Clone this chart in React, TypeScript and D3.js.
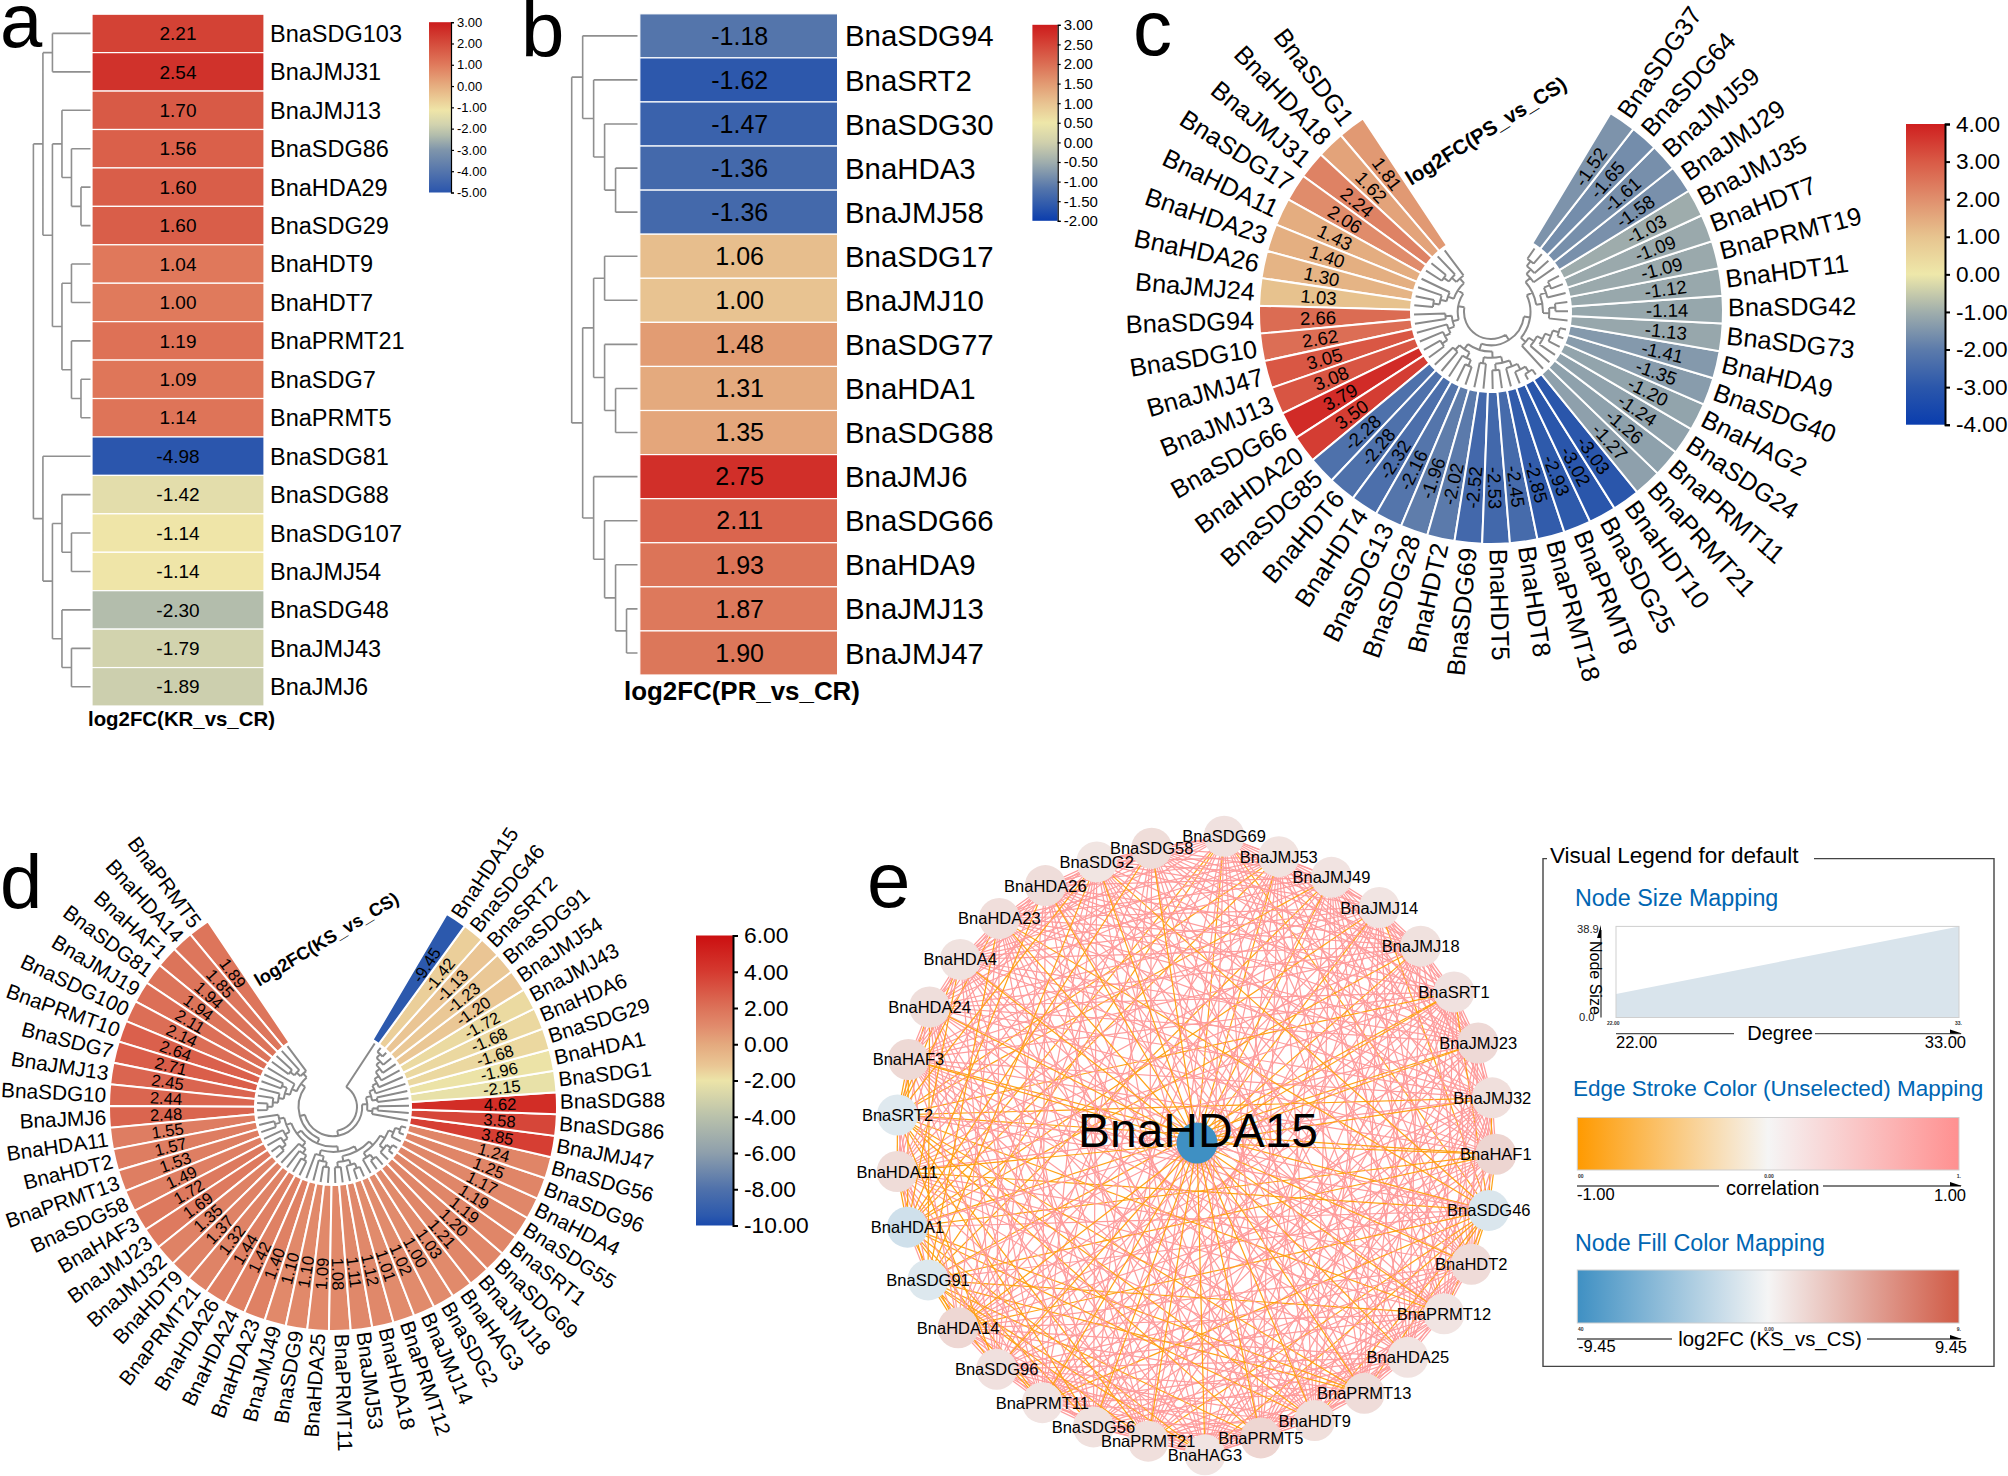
import * as React from "react";
import * as d3 from "d3";

type Tree = number | Tree[];
type Sel = d3.Selection<SVGSVGElement, unknown, null, undefined>;

const FONT = '"Liberation Sans", Arial, sans-serif';

// panel a
const aLabels = ["BnaSDG103","BnaJMJ31","BnaJMJ13","BnaSDG86","BnaHDA29","BnaSDG29","BnaHDT9","BnaHDT7","BnaPRMT21","BnaSDG7","BnaPRMT5","BnaSDG81","BnaSDG88","BnaSDG107","BnaJMJ54","BnaSDG48","BnaJMJ43","BnaJMJ6"];
const aValues = [2.21,2.54,1.7,1.56,1.6,1.6,1.04,1.0,1.19,1.09,1.14,-4.98,-1.42,-1.14,-1.14,-2.3,-1.79,-1.89];
const aTree: Tree = [[[0,1],[[2,[3,[4,5]]],[[6,7],[8,[9,10]]]]],[11,[[12,[13,14]],[15,[16,17]]]]];
const aTicks = [3,2,1,0,-1,-2,-3,-4,-5];
const aStops = [-5,-3,-2.3,-1.8,-1.14,0,1,2,3];
const aColors = ["#2a55ad","#7f95ab","#b3bdac","#d2d3ae","#efe5a8","#e6ae80","#e07a5c","#d54c3c","#cb1c1c"];

// panel b
const bLabels = ["BnaSDG94","BnaSRT2","BnaSDG30","BnaHDA3","BnaJMJ58","BnaSDG17","BnaJMJ10","BnaSDG77","BnaHDA1","BnaSDG88","BnaJMJ6","BnaSDG66","BnaHDA9","BnaJMJ13","BnaJMJ47"];
const bValues = [-1.18,-1.62,-1.47,-1.36,-1.36,1.06,1.0,1.48,1.31,1.35,2.75,2.11,1.93,1.87,1.9];
const bTree: Tree = [[0,[1,[2,[3,4]]]],[[[5,6],[7,[8,9]]],[10,[11,[12,[13,14]]]]]];
const bTicks = [3,2.5,2,1.5,1,0.5,0,-0.5,-1,-1.5,-2];
const bStops = [-2,-1.62,-1.18,-0.5,0,0.5,1,1.5,2,2.75,3];
const bColors = ["#0b3dad","#2d58ac","#5475ab","#a0aead","#d0d0ac","#eee7a9","#e8c391","#e29a72","#db6e54","#d12f29","#cc1c1c"];

// panel c
const cLabels = ["BnaSDG1","BnaHDA18","BnaJMJ31","BnaSDG17","BnaHDA11","BnaHDA23","BnaHDA26","BnaJMJ24","BnaSDG94","BnaSDG10","BnaJMJ47","BnaJMJ13","BnaSDG66","BnaHDA20","BnaSDG85","BnaHDT6","BnaHDT4","BnaSDG13","BnaSDG28","BnaHDT2","BnaSDG69","BnaHDT5","BnaHDT8","BnaPRMT18","BnaPRMT8","BnaSDG25","BnaHDT10","BnaPRMT21","BnaPRMT11","BnaSDG24","BnaHAG2","BnaSDG40","BnaHDA9","BnaSDG73","BnaSDG42","BnaHDT11","BnaPRMT19","BnaHDT7","BnaJMJ35","BnaJMJ29","BnaJMJ59","BnaSDG64","BnaSDG37"];
const cValues = [1.81,1.62,2.24,2.06,1.43,1.4,1.3,1.03,2.66,2.62,3.05,3.08,3.79,3.5,-2.28,-2.28,-2.32,-2.16,-1.96,-2.02,-2.52,-2.53,-2.45,-2.85,-2.93,-3.02,-3.03,-1.27,-1.26,-1.24,-1.2,-1.35,-1.41,-1.13,-1.14,-1.12,-1.09,-1.09,-1.03,-1.58,-1.61,-1.65,-1.52];
const cTree: Tree = [
  [[[0,[1,[2,3]]],[4,[5,[6,7]]]],[[8,9],[10,[11,[12,13]]]]],
  [[[[14,15],[16,[17,18]]],[[19,20],[[21,22],[23,[24,[25,26]]]]]],[[27,[28,[29,[30,[31,32]]]]],[[[33,[34,35]],[36,[37,38]]],[39,[40,[41,42]]]]]],
];
const cTicks = [4,3,2,1,0,-1,-2,-3,-4];
const cStops = [-4,-3,-2,-1,0,1,2,3,4];
const cColors = ["#0a3dae","#2b57ab","#5c7bab","#a0aeac","#eee8aa","#e7c48f","#e08f6d","#d95a46","#cf1f1f"];

// panel d
const dLabels = ["BnaPRMT5","BnaHDA14","BnaHAF1","BnaSDG81","BnaJMJ19","BnaSDG100","BnaPRMT10","BnaSDG7","BnaJMJ13","BnaSDG10","BnaJMJ6","BnaHDA11","BnaHDT2","BnaPRMT13","BnaSDG58","BnaHAF3","BnaJMJ23","BnaJMJ32","BnaHDT9","BnaPRMT21","BnaHDA26","BnaHDA24","BnaHDA23","BnaJMJ49","BnaSDG9","BnaHDA25","BnaPRMT11","BnaJMJ53","BnaHDA18","BnaPRMT12","BnaJMJ14","BnaSDG2","BnaHAG3","BnaJMJ18","BnaSDG69","BnaSRT1","BnaSDG55","BnaHDA4","BnaSDG96","BnaSDG56","BnaJMJ47","BnaSDG86","BnaSDG88","BnaSDG1","BnaHDA1","BnaSDG29","BnaHDA6","BnaJMJ43","BnaJMJ54","BnaSDG91","BnaSRT2","BnaSDG46","BnaHDA15"];
const dValues = [1.89,1.85,1.94,1.94,2.11,2.14,2.64,2.71,2.45,2.44,2.48,1.55,1.57,1.53,1.49,1.72,1.69,1.35,1.37,1.32,1.44,1.42,1.4,1.1,1.1,1.09,1.08,1.11,1.12,1.01,1.02,1.0,1.03,1.21,1.2,1.19,1.19,1.17,1.25,1.24,3.85,3.58,4.62,-2.15,-1.96,-1.68,-1.68,-1.72,-1.2,-1.23,-1.13,-1.42,-9.45];
const dTree: Tree = [
  [
    [
      [[0,[1,[2,3]]],[4,[[5,6],[7,[8,[9,10]]]]]],
      [
        [[[11,[12,13]],[14,[15,[16,17]]]],[18,[19,[20,21]]]],
        [[22,[23,[24,25]]],[[[26,27],[28,[29,30]]],[[31,[32,33]],[[34,[35,36]],[37,[38,39]]]]]],
      ],
    ],
    [[40,[41,42]],[[43,44],[45,[46,[47,[48,[49,[50,51]]]]]]]],
  ],
  52,
];
const dTicks = [6,4,2,0,-2,-4,-6,-8,-10];
const dStops = [-10,-9.45,-8,-6,-4,-2,-1.2,0,1,2,4,6];
const dColors = ["#1a4aad","#2c59ad","#4f71ab","#8e9fac","#b9c1ab","#ece4a8","#eac795","#e4a97e","#e18b6c","#dc7259","#d53a30","#cb0f10"];

// panel e, ring order clockwise from the top
const ringNames = ["BnaSDG69","BnaJMJ53","BnaJMJ49","BnaJMJ14","BnaJMJ18","BnaSRT1","BnaJMJ23","BnaJMJ32","BnaHAF1","BnaSDG46","BnaHDT2","BnaPRMT12","BnaHDA25","BnaPRMT13","BnaHDT9","BnaPRMT5","BnaHAG3","BnaPRMT21","BnaSDG56","BnaPRMT11","BnaSDG96","BnaHDA14","BnaSDG91","BnaHDA1","BnaHDA11","BnaSRT2","BnaHAF3","BnaHDA24","BnaHDA4","BnaHDA23","BnaHDA26","BnaSDG2","BnaSDG58"];
// these two sit a little outside the ring in the picture
const ringOutliers = ["BnaSDG69","BnaHAG3"];
// ring pairs that look unconnected (estimated, the web is too dense to read)
const missingLinks = [[0,7],[0,19],[1,12],[1,24],[2,9],[2,27],[3,15],[3,30],[4,11],[4,21],[5,18],[5,28],[6,14],[6,26],[7,22],[7,31],[8,16],[8,29],[9,20],[10,17],[10,25],[11,32],[12,23],[13,27],[6,13],[14,30],[15,24],[16,28],[17,31],[18,26],[19,29],[20,32],[21,30],[22,28],[0,13],[1,5],[2,16],[3,22],[4,25],[5,31],[6,20],[7,13],[8,24],[9,27],[3,10],[11,19],[12,29],[14,21],[15,27],[16,32],[17,24],[18,30],[19,25],[20,26],[21,28],[23,31],[24,29],[26,32],[27,31],[0,26],[2,20],[4,14],[6,17],[8,12],[9,15],[10,28],[11,23],[13,18],[22,32],[23,27],
  [1,9],[4,9],[6,9],[9,12],[9,18],[9,28],[9,30],[9,32],
  [1,22],[4,22],[6,22],[10,22],[12,22],[14,22],[18,22],[22,26],[22,30],
  [2,23],[5,23],[7,23],[10,23],[15,23],[17,23],[20,23],[23,29],
  [0,25],[3,25],[6,25],[12,25],[16,25],[19,25],[21,25],[25,30],[25,32]];
const edgeCorr = [-1,0,1];
const edgeCorrColors = ["#ff9a00","#f5f5f5","#ff9090"];
const fillLogFc = [-9.45,0,9.45];
const fillLogFcColors = ["#3f90c3","#f5f5f5","#d05a45"];
const sizeDegree = [22,33];
const sizeValue = [10,38.9];

function text(g: any, s: string, x: number, y: number, size: number, opt: any = {}) {
  return g.append("text")
    .attr("x", x).attr("y", y)
    .attr("font-family", FONT)
    .attr("font-size", size)
    .attr("font-weight", opt.weight || "normal")
    .attr("text-anchor", opt.anchor || "start")
    .attr("fill", opt.fill || "#000")
    .attr("transform", opt.rotate != null ? `rotate(${opt.rotate},${x},${y})` : null)
    .text(s);
}

function colorBar(svg: Sel, id: string, stops: number[], colors: string[], ticks: number[], box: any) {
  const lo = d3.min(ticks)!, hi = d3.max(ticks)!;
  const grad = svg.select("defs").append("linearGradient").attr("id", id)
    .attr("x1", 0).attr("y1", 1).attr("x2", 0).attr("y2", 0);
  stops.forEach((s, i) => {
    grad.append("stop").attr("offset", (s - lo) / (hi - lo)).attr("stop-color", colors[i]);
  });
  svg.append("rect").attr("x", box.x0).attr("y", box.y0)
    .attr("width", box.x1 - box.x0).attr("height", box.y1 - box.y0)
    .attr("fill", `url(#${id})`);
  const y = d3.scaleLinear([lo, hi], [box.y1, box.y0]);
  const axis = d3.axisRight(y).tickValues(ticks).tickSize(box.tick).tickPadding(box.pad)
    .tickFormat((d) => (+d).toFixed(2));
  const g = svg.append("g").attr("transform", `translate(${box.x1},0)`).call(axis as any);
  g.attr("font-family", FONT).attr("font-size", box.font);
  g.selectAll("path,line").attr("stroke", "#000").attr("stroke-width", box.sw);
  g.selectAll("text").attr("fill", "#000");
}

function heatPanel(svg: Sel, p: any) {
  const y = d3.scaleBand<string>(p.labels, [p.top, p.bottom]);
  const color = d3.scaleLinear<string>(p.stops, p.colors);
  const g = svg.append("g");
  g.selectAll("rect").data(p.labels as string[]).enter().append("rect")
    .attr("x", p.x0).attr("y", (d) => y(d)!)
    .attr("width", p.x1 - p.x0).attr("height", y.bandwidth())
    .attr("fill", (_, i) => color(p.values[i]))
    .attr("stroke", "#fff").attr("stroke-width", 1.2);
  p.labels.forEach((l: string, i: number) => {
    const cy = y(l)! + y.bandwidth() / 2;
    text(g, p.values[i].toFixed(2), (p.x0 + p.x1) / 2 + p.valueDx, cy + p.valueFont * 0.35, p.valueFont, { anchor: "middle" });
    text(g, l, p.x1 + p.labelDx, cy + p.labelFont * 0.36, p.labelFont);
  });
  // dendrogram on the left
  const root = d3.hierarchy<Tree>(p.tree, (d) => (Array.isArray(d) ? d : null));
  const maxDepth = d3.max(root.descendants(), (n) => (n.children ? n.depth : 0))!;
  const xd = d3.scaleLinear([0, maxDepth + 1], [p.treeX, p.leafX]);
  const pos = new Map<any, number>();
  root.eachAfter((n) => {
    if (n.children) {
      pos.set(n, (pos.get(n.children[0])! + pos.get(n.children[n.children.length - 1])!) / 2);
    } else {
      pos.set(n, y(p.labels[n.data as number])! + y.bandwidth() / 2);
    }
  });
  const path = d3.path();
  root.each((n) => {
    if (!n.children) return;
    const x = xd(n.depth);
    path.moveTo(x, pos.get(n.children[0])!);
    path.lineTo(x, pos.get(n.children[n.children.length - 1])!);
    n.children.forEach((c) => {
      path.moveTo(x, pos.get(c)!);
      path.lineTo(c.children ? xd(c.depth) : p.leafX, pos.get(c)!);
    });
  });
  svg.append("path").attr("d", path.toString()).attr("fill", "none")
    .attr("stroke", "#8f8f8f").attr("stroke-width", 1.6);
  text(svg, p.title, p.titleX, p.titleY, p.titleFont, { weight: "bold" });
}

function polarPanel(svg: Sel, p: any) {
  const deg = Math.PI / 180;
  const band = d3.scaleBand<string>(p.labels, [p.start * deg, p.end * deg]);
  const color = d3.scaleLinear<string>(p.stops, p.colors);
  const g = svg.append("g").attr("transform", `translate(${p.cx},${p.cy})`);
  const arc = d3.arc<string>()
    .innerRadius(p.inner).outerRadius(p.outer)
    .startAngle((d) => band(d)!)
    .endAngle((d) => band(d)! + band.bandwidth());
  g.selectAll("path.cell").data(p.labels as string[]).enter().append("path")
    .attr("class", "cell").attr("d", arc)
    .attr("fill", (_, i) => color(p.values[i]))
    .attr("stroke", "#fff").attr("stroke-width", 2);

  p.labels.forEach((l: string, i: number) => {
    const a = band(l)! + band.bandwidth() / 2;
    const m = a / deg;
    const right = m < 180;
    const rot = right ? m - 90 : m + 90;
    const at = (r: number) => `translate(${r * Math.sin(a)},${-r * Math.cos(a)}) rotate(${rot})`;
    g.append("text").attr("transform", at(p.outer + p.labelGap))
      .attr("dy", right ? "0.26em" : "0.36em").attr("text-anchor", right ? "start" : "end")
      .attr("font-family", FONT).attr("font-size", p.labelFont).text(l);
    g.append("text").attr("transform", at(p.valueR))
      .attr("dy", "0.36em").attr("text-anchor", right ? "start" : "end")
      .attr("font-family", FONT).attr("font-size", p.valueFont).text(p.values[i].toFixed(2));
  });

  // circular dendrogram
  const root = d3.hierarchy<Tree>(p.tree, (d) => (Array.isArray(d) ? d : null));
  const maxDepth = d3.max(root.descendants(), (n) => (n.children ? n.depth : 0))!;
  const rd = d3.scaleLinear([0, maxDepth + 1], [p.treeR, p.leafR]);
  const pos = new Map<any, number>();
  root.eachAfter((n) => {
    if (n.children) {
      pos.set(n, (pos.get(n.children[0])! + pos.get(n.children[n.children.length - 1])!) / 2);
    } else {
      pos.set(n, band(p.labels[n.data as number])! + band.bandwidth() / 2);
    }
  });
  const path = d3.path();
  root.each((n) => {
    if (!n.children) return;
    const r = rd(n.depth);
    const a0 = pos.get(n.children[0])!;
    const a1 = pos.get(n.children[n.children.length - 1])!;
    path.moveTo(r * Math.sin(a0), -r * Math.cos(a0));
    path.arc(0, 0, r, a0 - Math.PI / 2, a1 - Math.PI / 2, a1 < a0);
    n.children.forEach((c) => {
      const a = pos.get(c)!;
      const r2 = c.children ? rd(c.depth) : p.leafR;
      path.moveTo(r * Math.sin(a), -r * Math.cos(a));
      path.lineTo(r2 * Math.sin(a), -r2 * Math.cos(a));
    });
  });
  g.append("path").attr("d", path.toString()).attr("fill", "none")
    .attr("stroke", "#8a8a8a").attr("stroke-width", 2);

  svg.append("text").attr("transform", `translate(${p.titleX},${p.titleY}) rotate(${p.titleRot})`)
    .attr("font-family", FONT).attr("font-size", p.titleFont).attr("font-weight", "bold").text(p.title);
}

function networkPanel(svg: Sel) {
  const cx = 1196, cy = 1145, ringR = 300;
  // ring steps evenly from the top round to the last node, leaving a slightly wider gap before the first
  const angle = d3.scaleLinear([0, ringNames.length - 1], [5.2, 351.5]);
  const centerIdx = ringNames.length;
  const radius = (i: number) => (ringOutliers.includes(ringNames[i]) ? ringR + 10 : ringR);
  const px = (i: number) => (i === centerIdx ? 1197 : cx + radius(i) * Math.sin((angle(i) * Math.PI) / 180));
  const py = (i: number) => (i === centerIdx ? 1143 : cy - radius(i) * Math.cos((angle(i) * Math.PI) / 180));
  const names = [...ringNames, "BnaHDA15"];
  const fc = names.map((n) => dValues[dLabels.indexOf(n)]);
  const edgeScale = d3.scaleLinear<string>(edgeCorr, edgeCorrColors);
  const fillScale = d3.scaleLinear<string>(fillLogFc, fillLogFcColors);
  const missing = new Set(missingLinks.map(([a, b]) => `${a}-${b}`));
  const links: { a: number; b: number; neg: boolean }[] = [];
  names.forEach((_, a) => {
    names.forEach((_, b) => {
      if (b <= a || missing.has(`${a}-${b}`)) return;
      links.push({ a, b, neg: fc[a] * fc[b] < 0 });
    });
  });
  const g = svg.append("g");
  g.selectAll("line").data(links).enter().append("line")
    .attr("x1", (d) => px(d.a)).attr("y1", (d) => py(d.a))
    .attr("x2", (d) => px(d.b)).attr("y2", (d) => py(d.b))
    .attr("stroke", (d) => edgeScale(d.neg ? -0.92 : 0.88))
    .attr("stroke-width", 1.2);
  g.selectAll("circle").data(names).enter().append("circle")
    .attr("cx", (_, i) => px(i)).attr("cy", (_, i) => py(i)).attr("r", 20.5)
    .attr("fill", (_, i) => fillScale(fc[i]));
  ringNames.forEach((n, i) => {
    text(g, n, px(i), py(i) + 6, 16.5, { anchor: "middle" });
  });
  text(g, "BnaHDA15", 1198, 1147, 48, { anchor: "middle" });
}

function legendPanel(svg: Sel) {
  const g = svg.append("g");
  const outline = d3.path();
  outline.moveTo(1547, 858.6);
  outline.lineTo(1543, 858.6);
  outline.lineTo(1543, 1366.4);
  outline.lineTo(1994, 1366.4);
  outline.lineTo(1994, 858.6);
  outline.lineTo(1814, 858.6);
  g.append("path").attr("d", outline.toString()).attr("fill", "none")
    .attr("stroke", "#444").attr("stroke-width", 1.4);
  text(g, "Visual Legend for default", 1550, 863, 22.5);
  const blue = "#0066b3";
  text(g, "Node Size Mapping", 1575, 906, 23.3, { fill: blue });
  text(g, "Edge Stroke Color (Unselected) Mapping", 1573, 1096, 22.5, { fill: blue });
  text(g, "Node Fill Color Mapping", 1575, 1251, 23.3, { fill: blue });

  // node size area
  const x = d3.scaleLinear(sizeDegree, [1616, 1959]);
  const y = d3.scaleLinear([0, 38.9], [1017.5, 926.4]);
  const area = d3.area<number>().x((d) => x(d)).y0(y(0))
    .y1((_, i) => y(sizeValue[i]));
  g.append("path").attr("d", area(sizeDegree)).attr("fill", "#d9e4ec");
  g.append("rect").attr("x", 1616).attr("y", 926.4).attr("width", 343).attr("height", 91.1)
    .attr("fill", "none").attr("stroke", "#cfcfcf").attr("stroke-width", 1);
  g.append("line").attr("x1", 1601).attr("x2", 1601).attr("y1", 930).attr("y2", 1017.5)
    .attr("stroke", "#333").attr("stroke-width", 1.2);
  g.append("path").attr("d", "M1601,925 L1597,938 L1601,938 Z").attr("fill", "#000");
  text(g, "38.9", 1577, 932.5, 11.2, { fill: "#222" });
  text(g, "0.0", 1579, 1021, 11.2, { fill: "#222" });
  text(g, "Node Size", 1590, 941, 16, { rotate: 90 });

  const rule = (yy: number, a: number, b: number, c: number) => {
    g.append("line").attr("x1", a).attr("x2", b).attr("y1", yy).attr("y2", yy).attr("stroke", "#555").attr("stroke-width", 1.3);
    g.append("line").attr("x1", c).attr("x2", 1961).attr("y1", yy).attr("y2", yy).attr("stroke", "#555").attr("stroke-width", 1.3);
    g.append("path").attr("d", `M1950,${yy - 4} L1962,${yy} L1950,${yy} Z`).attr("fill", "#000");
  };
  const tiny = (s: string, xx: number, yy: number, anchor = "start") =>
    text(g, s, xx, yy, 5, { weight: "bold", anchor, fill: "#333" });

  tiny("22.00", 1607, 1025);
  tiny("33.", 1962, 1025, "end");
  rule(1033.6, 1616, 1734, 1815);
  text(g, "Degree", 1780, 1040, 20, { anchor: "middle" });
  text(g, "22.00", 1616, 1048, 16.5);
  text(g, "33.00", 1966, 1048, 16.5, { anchor: "end" });

  const gradRect = (id: string, stops: number[], colors: string[], top: number, bottom: number) => {
    const lo = stops[0], hi = stops[stops.length - 1];
    const gr = svg.select("defs").append("linearGradient").attr("id", id);
    stops.forEach((s, i) => gr.append("stop").attr("offset", (s - lo) / (hi - lo)).attr("stop-color", colors[i]));
    g.append("rect").attr("x", 1577.3).attr("y", top).attr("width", 381.7).attr("height", bottom - top)
      .attr("fill", `url(#${id})`).attr("stroke", "#cfcfcf").attr("stroke-width", 1);
  };
  gradRect("edgeGrad", edgeCorr, edgeCorrColors, 1117.5, 1170);
  tiny("00", 1578, 1178);
  tiny("0.00", 1769, 1178, "middle");
  tiny("1.", 1961, 1178, "end");
  rule(1186, 1577, 1719, 1823);
  text(g, "correlation", 1772.7, 1195, 20, { anchor: "middle" });
  text(g, "-1.00", 1577, 1200, 16.5);
  text(g, "1.00", 1966, 1201, 16.5, { anchor: "end" });

  gradRect("fillGrad", fillLogFc, fillLogFcColors, 1270, 1323);
  tiny("40", 1578, 1331);
  tiny("0.00", 1769, 1331, "middle");
  tiny("9.", 1961, 1331, "end");
  rule(1339, 1577, 1672, 1867);
  text(g, "log2FC (KS_vs_CS)", 1770, 1346, 20.4, { anchor: "middle" });
  text(g, "-9.45", 1578, 1352, 16.5);
  text(g, "9.45", 1967, 1353, 16.5, { anchor: "end" });
}

export default function App() {
  const ref = React.useRef<HTMLDivElement | null>(null);
  React.useEffect(() => {
    const svg = d3.select(ref.current)
      .append("svg")
      .attr("width", 2008).attr("height", 1476)
      .attr("viewBox", "0 0 2008 1476")
      .style("position", "absolute").style("left", 0).style("top", 0)
      .style("background", "#fff") as unknown as Sel;
    svg.append("defs");

    heatPanel(svg, {
      labels: aLabels, values: aValues, tree: aTree, stops: aStops, colors: aColors,
      x0: 92, x1: 264, top: 14.2, bottom: 706, valueFont: 19, labelFont: 23.5, valueDx: 0, labelDx: 6,
      treeX: 33.4, leafX: 90.5, title: "log2FC(KR_vs_CR)", titleX: 88, titleY: 726, titleFont: 20.4,
    });
    colorBar(svg, "barA", aStops, aColors, aTicks, { x0: 429, x1: 451, y0: 22.2, y1: 192.5, tick: 3, pad: 3, font: 13, sw: 1.2 });

    heatPanel(svg, {
      labels: bLabels, values: bValues, tree: bTree, stops: bStops, colors: bColors,
      x0: 639.8, x1: 837.6, top: 13.8, bottom: 675, valueFont: 25, labelFont: 29.4, valueDx: 1, labelDx: 7.4,
      treeX: 571.7, leafX: 637.5, title: "log2FC(PR_vs_CR)", titleX: 624, titleY: 700, titleFont: 25.9,
    });
    colorBar(svg, "barB", bStops, bColors, bTicks, { x0: 1032.4, x1: 1057.7, y0: 24.8, y1: 220.8, tick: 3, pad: 3, font: 15, sw: 1.2 });

    polarPanel(svg, {
      labels: cLabels, values: cValues, tree: cTree, stops: cStops, colors: cColors,
      cx: 1491, cy: 312, inner: 80, outer: 232, start: 326.5, end: 31,
      labelGap: 5, labelFont: 25.4, valueR: 155, valueFont: 18.5,
      treeR: 27, leafR: 77,
      title: "log2FC(PS_vs_CS)", titleX: 1411, titleY: 186, titleRot: -32, titleFont: 20.6,
    });
    colorBar(svg, "barC", cStops, cColors, cTicks, { x0: 1906, x1: 1945, y0: 124, y1: 424.7, tick: 5, pad: 6, font: 22.6, sw: 2 });

    polarPanel(svg, {
      labels: dLabels, values: dValues, tree: dTree, stops: dStops, colors: dColors,
      cx: 333, cy: 1107, inner: 78, outer: 224, start: 326, end: 30.5,
      labelGap: 3, labelFont: 20.8, valueR: 151, valueFont: 16.6,
      treeR: 24, leafR: 76,
      title: "log2FC(KS_vs_CS)", titleX: 259, titleY: 987, titleRot: -31, titleFont: 18.2,
    });
    colorBar(svg, "barD", dStops, dColors, dTicks, { x0: 696, x1: 733, y0: 935.5, y1: 1225.5, tick: 5, pad: 6, font: 22.8, sw: 2 });

    networkPanel(svg);
    legendPanel(svg);

    [["a", 0, 47, 76], ["b", 521, 57, 78], ["c", 1133, 55, 78], ["d", 0, 908, 76], ["e", 867, 907, 78]].forEach(([s, x, y, size]) => {
      text(svg, s as string, x as number, y as number, size as number);
    });

    return function cleanup() {
      // eslint-disable-next-line react-hooks/exhaustive-deps
      d3.select(ref.current).selectAll("svg").remove();
    };
  }, []);
  return <div ref={ref}></div>;
}
